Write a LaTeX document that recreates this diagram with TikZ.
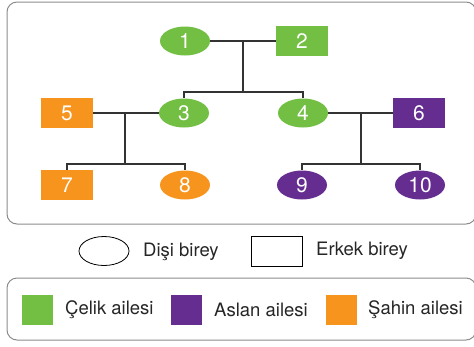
\documentclass[tikz,border=0pt]{standalone}
\usepackage{fontspec}
\setmainfont{TeX Gyre Heros}
\usetikzlibrary{shapes.geometric}
\definecolor{cgreen}{HTML}{72BF44}
\definecolor{corange}{HTML}{F7941D}
\definecolor{cpurple}{HTML}{662D91}
\begin{document}
\begin{tikzpicture}[x=1pt,y=-1pt,
  fem/.style={ellipse,minimum width=50pt,minimum height=29pt,inner sep=0pt,text=white,font=\fontsize{21}{21}\selectfont},
  mal/.style={rectangle,minimum width=52pt,minimum height=30pt,inner sep=0pt,text=white,font=\fontsize{21}{21}\selectfont},
  link/.style={draw=black!80,line width=1.1pt},
  frame/.style={draw=black!45,line width=1pt,rounded corners=10pt},
  lbl/.style={anchor=west,inner sep=0pt,font=\fontsize{18.5}{18.5}\selectfont,text=black!85},
  sw/.style={rectangle,minimum width=31pt,minimum height=30pt,inner sep=0pt}]
\useasboundingbox (0,0) rectangle (474,346);
\draw[frame] (7,2) rectangle (476,224);
\node[fem,fill=cgreen] (n1) at (185,41) {1};
\node[mal,fill=cgreen] (n2) at (302,41) {2};
\node[fem,fill=cgreen] (n3) at (184,113) {3};
\node[fem,fill=cgreen] (n4) at (303,113) {4};
\node[mal,fill=corange] (n5) at (67,113) {5};
\node[mal,fill=cpurple] (n6) at (419,113) {6};
\node[mal,fill=corange] (n7) at (67,185) {7};
\node[fem,fill=corange] (n8) at (185,185) {8};
\node[fem,fill=cpurple] (n9) at (302,185) {9};
\node[fem,fill=cpurple] (n10) at (420,185) {10};
\coordinate (m12) at (243,41);
\coordinate (m53) at (125,113);
\coordinate (m46) at (361,113);
\draw[link] (n1) -- (n2);
\draw[link] (m12) -- (243,92) -| (n3.north);
\draw[link] (243,92) -| (n4.north);
\draw[link] (n5) -- (n3);
\draw[link] (m53) -- (125,164) -| (n7.north);
\draw[link] (125,164) -| (n8.north);
\draw[link] (n4) -- (n6);
\draw[link] (m46) -- (361,164) -| (n9.north);
\draw[link] (361,164) -| (n10.north);
% legend
\node[ellipse,draw=black,line width=0.8pt,minimum width=50pt,minimum height=29pt] (lf) at (104,251) {};
\node[lbl] (lft) at (143,252) {Dişi birey};
\node[rectangle,draw=black,line width=0.8pt,minimum width=51pt,minimum height=30pt] (lm) at (277,251) {};
\node[lbl] (lmt) at (316,251) {Erkek birey};
\draw[frame] (7,278) rectangle (476,340);
\node[sw,fill=cgreen] (s1) at (37.5,310) {};
\node[lbl] (t1) at (65,310) {Çelik ailesi};
\node[sw,fill=cpurple] (s2) at (186.5,310) {};
\node[lbl] (t2) at (214,310) {Aslan ailesi};
\node[sw,fill=corange] (s3) at (341.5,310) {};
\node[lbl] (t3) at (368,310) {Şahin ailesi};
\end{tikzpicture}
\end{document}
